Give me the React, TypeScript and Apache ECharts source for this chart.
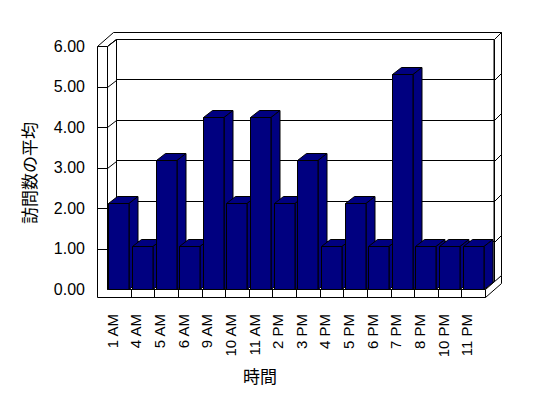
import React, { useEffect, useRef } from "react";
import * as echarts from "echarts";

const categories = ["1 AM", "4 AM", "5 AM", "6 AM", "9 AM", "10 AM", "11 AM", "2 PM", "3 PM", "4 PM", "5 PM", "6 PM", "7 PM", "8 PM", "10 PM", "11 PM"];
const visits = [2.12, 1.06, 3.18, 1.06, 4.24, 2.12, 4.24, 2.12, 3.18, 1.06, 2.12, 1.06, 5.3, 1.06, 1.06, 1.06];
const yTicks = [0, 1, 2, 3, 4, 5, 6];
const yTitle = "訪問数の平均";
const xTitle = "時間";

const DX = 9;
const DY = -7;
const WALL = 10;
const FLOOR = 8;
const BACK = 7;
const FONT = "'Liberation Sans', 'Noto Sans CJK JP', sans-serif";

const s = (v: number) => Math.round(v) + 0.5;

export default function App() {
  const ref = useRef<HTMLDivElement>(null);
  useEffect(() => {
    if (!ref.current) return;
    const chart = echarts.init(ref.current, undefined, { renderer: "svg" });
    const line = { stroke: "#000", lineWidth: 1 };
    const face = { fill: "#fff", stroke: "#000", lineWidth: 1 };

    const frameItem = (params: any, api: any) => {
      const bw = api.size([1, 0])[0];
      const p0 = api.coord([0, 0]);
      const x0 = p0[0] - bw / 2;
      const x1 = api.coord([categories.length - 1, 0])[0] + bw / 2;
      const yb = p0[1];
      const yt = api.coord([0, 6])[1];
      const L = x0 - WALL;
      const poly = (pts: number[][]) => ({
        type: "polygon",
        shape: { points: pts.map((p) => [s(p[0]), s(p[1])]) },
        style: face,
      });
      const seg = (a: number[], b: number[]) => ({
        type: "line",
        shape: { x1: s(a[0]), y1: s(a[1]), x2: s(b[0]), y2: s(b[1]) },
        style: line,
      });
      const children: any[] = [
        poly([[L, yt], [L + DX + BACK, yt + DY - BACK], [x1 + DX + BACK, yt + DY - BACK], [x1 + DX, yt + DY], [x0 + DX, yt + DY], [x0, yt]]),
        poly([[x0, yt], [x0 + DX, yt + DY], [x0 + DX, yb + DY], [x0, yb]]),
        poly([[L, yt], [x0, yt], [x0, yb], [x1, yb], [x1, yb + FLOOR], [L, yb + FLOOR]]),
        poly([[x0, yb], [x0 + DX, yb + DY], [x1 + DX, yb + DY], [x1, yb]]),
        poly([[x1 + DX, yt + DY], [x1 + DX + BACK, yt + DY - BACK], [x1 + DX + BACK, yb + DY - BACK], [x1 + DX, yb + DY]]),
        poly([[x1, yb], [x1 + DX + BACK, yb + DY - BACK], [x1 + DX + BACK, yb + DY - BACK + FLOOR], [x1, yb + FLOOR]]),
      ];
      yTicks.forEach((v) => {
        const y = api.coord([0, v])[1];
        if (v > 0 && v < 6) {
          children.push(seg([L, y], [x0, y]));
          children.push(seg([x1 + DX, y + DY], [x1 + DX + BACK, y + DY - BACK]));
        }
        if (v > 0) children.push(seg([x0, y], [x0 + DX, y + DY]));
      });
      for (let i = 1; i < categories.length; i++) {
        const x = x0 + i * bw;
        children.push(seg([x, yb], [x, yb + FLOOR]));
      }
      return { type: "group", children };
    };

    const barItem = (params: any, api: any) => {
      const i = api.value(0);
      const v = api.value(1);
      const bw = api.size([1, 0])[0];
      const top = api.coord([i, v]);
      const base = api.coord([i, 0]);
      const w = bw * 0.85;
      const l = Math.round(top[0] - w / 2 - 0.5) + 0.5;
      const r = Math.round(l + w);
      const t = Math.round(top[1]) + 0.5;
      const b = Math.round(base[1]) + 0.5;
      const st = { fill: "#000080", stroke: "#000", lineWidth: 1 };
      return {
        type: "group",
        children: [
          { type: "polygon", shape: { points: [[l, t], [l + DX, t + DY], [r + DX, t + DY], [r, t]] }, style: st },
          { type: "polygon", shape: { points: [[r, t], [r + DX, t + DY], [r + DX, b + DY], [r, b]] }, style: st },
          { type: "rect", shape: { x: l, y: t, width: r - l, height: b - t }, style: st },
        ],
      };
    };

    chart.setOption({
      animation: false,
      backgroundColor: "#fff",
      grid: [
        { left: 107, top: 46, width: 378, height: 243 },
        { left: 116, top: 39, width: 378, height: 243, show: true, backgroundColor: "#fff", borderColor: "#000", borderWidth: 1 },
      ],
      xAxis: [
        {
          type: "category",
          gridIndex: 0,
          data: categories,
          axisLine: { show: false },
          axisTick: { show: false },
          axisLabel: {
            interval: 0,
            rotate: 90,
            margin: 25,
            fontSize: 15,
            color: "#000",
            fontFamily: FONT,
            verticalAlign: "bottom",
            lineHeight: 13,
          },
        },
        { type: "category", gridIndex: 1, data: categories, show: false },
      ],
      yAxis: [
        {
          type: "value",
          gridIndex: 0,
          min: 0,
          max: 6,
          interval: 1,
          axisLine: { show: false },
          axisTick: { show: false },
          splitLine: { show: false },
          axisLabel: { margin: 22, fontSize: 16, color: "#000", fontFamily: FONT, formatter: (v: number) => v.toFixed(2) },
        },
        {
          type: "value",
          gridIndex: 1,
          min: 0,
          max: 6,
          interval: 1,
          axisLine: { show: false },
          axisTick: { show: false },
          axisLabel: { show: false },
          splitLine: { show: true, lineStyle: { color: "#000", width: 1 } },
        },
      ],
      graphic: [
        {
          type: "text",
          x: 30,
          y: 173,
          rotation: Math.PI / 2,
          style: { text: yTitle, fontSize: 17, fill: "#000", fontFamily: FONT, align: "center", verticalAlign: "middle" },
        },
        {
          type: "text",
          x: 260,
          y: 377,
          style: { text: xTitle, fontSize: 17, fill: "#000", fontFamily: FONT, align: "center", verticalAlign: "middle" },
        },
      ],
      series: [
        { type: "custom", xAxisIndex: 0, yAxisIndex: 0, renderItem: frameItem, data: [[0, 0]], clip: false, z: 1, silent: true },
        {
          type: "custom",
          xAxisIndex: 0,
          yAxisIndex: 0,
          renderItem: barItem,
          data: visits.map((v, i) => [i, v]),
          encode: { x: 0, y: 1 },
          clip: false,
          z: 5,
        },
      ],
    });
    return () => chart.dispose();
  }, []);
  return <div ref={ref} style={{ position: "fixed", left: 0, top: 0, width: 548, height: 398 }} />;
}
